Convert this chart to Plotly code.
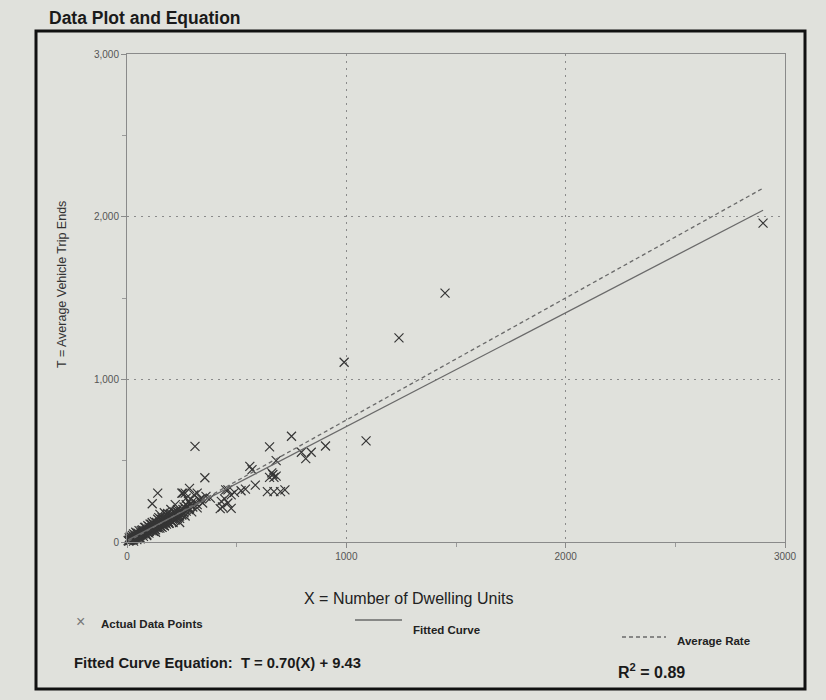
import plotly.graph_objects as go

# ---------------- data ----------------
dwelling_units = [
    # outliers / mid-range sites
    2900, 1450, 1240, 990, 1090, 905, 750, 650, 310, 355, 140, 115,
    560, 570, 680, 665, 650, 670, 660, 680, 795, 840, 815, 585,
    640, 670, 700, 720, 450, 490, 475, 520, 540, 460, 430, 445,
    460, 435, 475, 425, 255, 285, 305, 270, 265, 320, 250,
    # dense cluster near the origin
    5, 8, 10, 12, 15, 18, 20, 22, 25, 28, 30, 32, 35, 38, 40, 42, 45, 48,
    50, 52, 55, 58, 60, 62, 65, 68, 70, 72, 75, 78, 80, 82, 85, 88, 90, 92,
    95, 98, 100, 102, 105, 108, 110, 112, 115, 118, 120, 122, 125, 128, 130,
    132, 135, 138, 140, 142, 145, 148, 150, 152, 155, 158, 160, 162, 165,
    168, 170, 172, 175, 178, 180, 182, 185, 188, 190, 192, 195, 198, 200,
    205, 208, 210, 215, 218, 220, 225, 228, 230, 235, 240, 245, 250, 255,
    260, 265, 270, 275, 280, 290, 300, 310, 320, 330, 345, 360, 380,
    60, 90, 130, 150, 170, 200, 220, 240, 110, 75, 185, 160,
    20, 35, 45, 65, 85, 100, 120, 135, 155, 175, 195, 215, 230, 260, 280,
    10, 15, 25, 30, 40, 50, 55, 70, 80, 95, 105, 115, 125, 140, 145,
    160, 165, 180, 190, 200, 210, 225, 235, 250, 270, 285, 300, 320, 340,
    30, 45, 60, 75, 90, 100, 120, 130, 150, 170, 190, 205, 240, 265, 295,
]
trip_ends = [
    1960, 1530, 1255, 1105, 622, 590, 650, 585, 588, 395, 300, 235,
    465, 445, 500, 415, 397, 397, 425, 405, 552, 552, 513, 350,
    310, 310, 310, 320, 320, 305, 290, 315, 325, 320, 250, 265,
    240, 215, 207, 205, 300, 330, 290, 270, 300, 300, 300,
    8, 5, 12, 9, 14, 10, 18, 15, 22, 17, 25, 20, 30, 24, 32, 28, 38, 30,
    40, 35, 45, 38, 48, 42, 55, 45, 52, 60, 50, 62, 58, 70, 55, 68, 65, 75,
    60, 72, 80, 65, 78, 85, 70, 90, 80, 75, 95, 85, 100, 78, 92,
    105, 88, 110, 95, 85, 115, 100, 108, 120, 95, 112, 125, 105, 130,
    115, 100, 135, 120, 140, 110, 130, 145, 125, 150, 115, 138, 155, 130,
    160, 140, 120, 165, 150, 135, 175, 155, 145, 180, 160, 190, 170, 200,
    180, 210, 190, 220, 200, 230, 215, 245, 230, 260, 240, 280, 270,
    20, 40, 60, 170, 180, 200, 230, 120, 110, 70, 175, 150,
    30, 45, 50, 70, 90, 95, 110, 120, 140, 150, 170, 185, 200, 215, 250,
    25, 35, 40, 50, 60, 55, 70, 75, 90, 100, 110, 120, 125, 140, 150,
    90, 140, 165, 120, 175, 150, 190, 160, 165, 230, 205, 250, 210, 265,
    5, 15, 25, 35, 45, 55, 65, 75, 85, 100, 115, 125, 145, 160, 185,
]

fit_slope = 0.70
fit_intercept = 9.43
average_rate = 0.75
r_squared = 0.89

x_ticks = [0, 1000, 2000, 3000]
y_ticks = [0, 1000, 2000, 3000]

# ---------------- layout geometry ----------------
W, H = 826, 700
L, R, T, B = 127, 41, 54, 158
PW, PH = W - L - R, H - T - B
BG = "#e0e1dc"


def fx(px):
    return (px - L) / PW


def fy(py):
    return (H - B - py) / PH


x_min, x_max = min(dwelling_units), max(dwelling_units)
line_x = [x_min, x_max]

fig = go.Figure()
fig.add_trace(go.Scatter(
    x=dwelling_units, y=trip_ends, mode="markers",
    marker=dict(symbol="x-thin", size=9, line=dict(width=1.2, color="#353535")),
    cliponaxis=False, showlegend=False, hoverinfo="x+y",
))
fig.add_trace(go.Scatter(
    x=line_x, y=[fit_slope * v + fit_intercept for v in line_x], mode="lines",
    line=dict(color="#6a6a6a", width=1.3), showlegend=False,
))
fig.add_trace(go.Scatter(
    x=line_x, y=[average_rate * v for v in line_x], mode="lines",
    line=dict(color="#6a6a6a", width=1.3, dash="4px,3px"), showlegend=False,
))

axis_common = dict(
    showline=True, linecolor="#8a8a8a", linewidth=1, mirror=True,
    ticks="outside", ticklen=5, tickcolor="#8a8a8a",
    showgrid=True, gridcolor="#8a8a8a", griddash="2px,5px", gridwidth=1.4,
    zeroline=False,
    tickfont=dict(family="Liberation Sans, Arial, sans-serif", size=10, color="#555"),
    minor=dict(ticks="outside", ticklen=4, dtick=500, tickcolor="#9a9a9a", showgrid=False),
)

fig.update_xaxes(range=[0, 3000], tickvals=x_ticks, tickformat="d", **axis_common)
fig.update_yaxes(range=[0, 3000], tickvals=y_ticks, tickformat=",", **axis_common)

bold = "Liberation Sans, Arial, sans-serif"
narrow = "Liberation Sans Narrow, Arial Narrow, Liberation Sans, sans-serif"

annotations = [
    dict(x=fx(47), y=fy(18), text="<b>Data Plot and Equation</b>", xanchor="left",
         yanchor="middle", font=dict(family=bold, size=17.5, color="#1a1a1a")),
    dict(x=fx(62), y=fy(285), text="T = Average Vehicle Trip Ends", textangle=-90,
         xanchor="center", yanchor="middle", font=dict(family=bold, size=12.5, color="#333")),
    dict(x=fx(408), y=fy(598), text="X = Number of Dwelling Units", xanchor="center",
         yanchor="middle", font=dict(family=narrow, size=16, color="#222")),
    dict(x=fx(80), y=fy(621), text="×", xanchor="center", yanchor="middle",
         font=dict(family=bold, size=16, color="#777")),
    dict(x=fx(99), y=fy(624), text="<b>Actual Data Points</b>", xanchor="left",
         yanchor="middle", font=dict(family=narrow, size=11.5, color="#222")),
    dict(x=fx(411), y=fy(630), text="<b>Fitted Curve</b>", xanchor="left",
         yanchor="middle", font=dict(family=narrow, size=11.5, color="#222")),
    dict(x=fx(675), y=fy(641), text="<b>Average Rate</b>", xanchor="left",
         yanchor="middle", font=dict(family=narrow, size=11.5, color="#222")),
    dict(x=fx(72), y=fy(663),
         text=f"<b>Fitted Curve Equation:  T = {fit_slope:.2f}(X) + {fit_intercept:.2f}</b>",
         xanchor="left", yanchor="middle", font=dict(family=narrow, size=14.8, color="#1a1a1a")),
    dict(x=fx(616), y=fy(671), text=f"<b>R<sup>2</sup> = {r_squared:.2f}</b>", xanchor="left",
         yanchor="middle", font=dict(family=narrow, size=16, color="#1a1a1a")),
]
for a in annotations:
    a.update(xref="paper", yref="paper", showarrow=False)

shapes = [
    # outer frame
    dict(type="rect", x0=fx(36), x1=fx(805), y0=fy(689), y1=fy(31),
         line=dict(color="#111", width=3)),
    # legend samples
    dict(type="line", x0=fx(355), x1=fx(402), y0=fy(620), y1=fy(620),
         line=dict(color="#6a6a6a", width=1.3)),
    dict(type="line", x0=fx(622), x1=fx(666), y0=fy(637), y1=fy(637),
         line=dict(color="#6a6a6a", width=1.3, dash="4px,3px")),
]
for s in shapes:
    s.update(xref="paper", yref="paper")

fig.update_layout(
    width=W, height=H, margin=dict(l=L, r=R, t=T, b=B),
    paper_bgcolor=BG, plot_bgcolor=BG,
    annotations=annotations, shapes=shapes, showlegend=False,
)

fig.write_html(
    "out.html",
    config={"displayModeBar": False},
    post_script=(
        "document.body.style.margin='0';"
        "document.body.style.padding='0';"
        f"document.body.style.background='{BG}';"
        "document.documentElement.style.overflow='hidden';"
    ),
)
